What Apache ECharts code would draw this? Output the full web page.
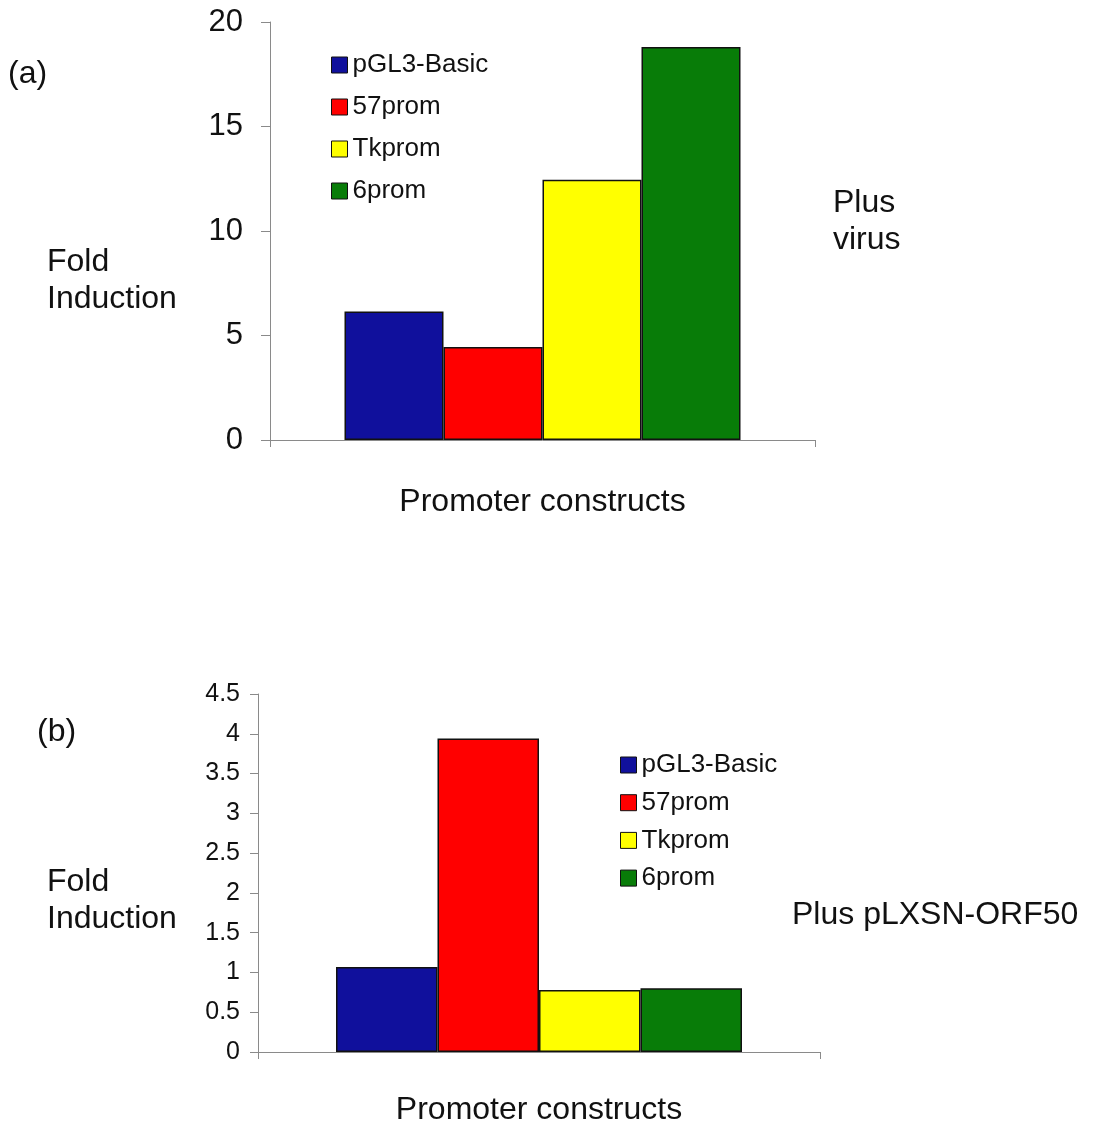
<!DOCTYPE html>
<html>
<head>
<meta charset="utf-8">
<script src="https://cdn.jsdelivr.net/npm/echarts@6/dist/echarts.min.js"></script>
<style>
  html, body { margin: 0; padding: 0; background: #fff; }
  #chart { width: 1096px; height: 1124px; }
</style>
</head>
<body>
<div id="chart"></div>
<script>
// categories / series
var seriesNames = ['pGL3-Basic', '57prom', 'Tkprom', '6prom']
var seriesColors = ['#10109c', '#ff0000', '#ffff00', '#087c08']
var category = ['Promoter constructs']

// (a) plus virus
var virusValues = [6.15, 4.45, 12.45, 18.8]
// (b) plus pLXSN-ORF50
var orfValues = [1.07, 3.94, 0.78, 0.8]

var font = 'Liberation Sans, Arial, sans-serif'
var chart = echarts.init(document.getElementById('chart'))

function makeSeries(values, idx) {
  return seriesNames.map(function(name, i) {
    return {
      name: name,
      type: 'bar',
      xAxisIndex: idx,
      yAxisIndex: idx,
      barWidth: idx === 0 ? 99 : 101.5,
      barGap: '0%',
      itemStyle: { color: seriesColors[i], borderColor: '#111', borderWidth: 1.5 },
      data: [values[i]],
      animation: false
    }
  })
}

function legendBlock(left, top, gap) {
  return {
    orient: 'vertical',
    left: left,
    top: top,
    icon: 'rect',
    itemWidth: 16,
    itemHeight: 16,
    itemGap: gap,
    data: seriesNames,
    selectedMode: false,
    textStyle: { fontFamily: font, fontSize: 26, color: '#111' },
    itemStyle: { borderColor: '#111', borderWidth: 1 }
  }
}

chart.setOption({
  animation: false,
  grid: [
    { left: 270, top: 22, width: 545, height: 418, outerBoundsMode: 'none' },
    { left: 258, top: 694, width: 562, height: 358, outerBoundsMode: 'none' }
  ],
  legend: [legendBlock(326, 47, 16), legendBlock(615, 747, 11.7)],
  xAxis: [0, 1].map(function(i) {
    return {
      type: 'category',
      gridIndex: i,
      data: category,
      axisLine: { lineStyle: { color: '#8a8a8a', width: 1 } },
      axisTick: { show: true, length: 7, lineStyle: { color: '#8a8a8a' } },
      axisLabel: { show: false },
      name: 'Promoter constructs',
      nameLocation: 'middle',
      nameGap: i === 0 ? 46 : 42,
      nameTextStyle: { fontFamily: font, fontSize: 32, color: '#111' }
    }
  }),
  yAxis: [
    {
      type: 'value', gridIndex: 0, min: 0, max: 20, interval: 5,
      axisLine: { show: true, lineStyle: { color: '#8a8a8a' } },
      axisTick: { show: true, length: 9, lineStyle: { color: '#8a8a8a' } },
      splitLine: { show: false },
      axisLabel: { fontFamily: font, fontSize: 31, color: '#111', margin: 27 }
    },
    {
      type: 'value', gridIndex: 1, min: 0, max: 4.5, interval: 0.5,
      axisLine: { show: true, lineStyle: { color: '#8a8a8a' } },
      axisTick: { show: true, length: 8, lineStyle: { color: '#8a8a8a' } },
      splitLine: { show: false },
      axisLabel: { fontFamily: font, fontSize: 25, color: '#111', margin: 18 }
    }
  ],
  graphic: [
    { type: 'text', left: 8, top: 56, style: { text: '(a)', font: '32px ' + font, lineHeight: 36, fill: '#111' } },
    { type: 'text', left: 47, top: 244, style: { text: 'Fold\nInduction', font: '32px ' + font, lineHeight: 37, fill: '#111' } },
    { type: 'text', left: 833, top: 185, style: { text: 'Plus\nvirus', font: '32px ' + font, lineHeight: 37, fill: '#111' } },
    { type: 'text', left: 37, top: 714, style: { text: '(b)', font: '32px ' + font, lineHeight: 36, fill: '#111' } },
    { type: 'text', left: 47, top: 864, style: { text: 'Fold\nInduction', font: '32px ' + font, lineHeight: 37, fill: '#111' } },
    { type: 'text', left: 792, top: 897, style: { text: 'Plus pLXSN-ORF50', font: '32px ' + font, lineHeight: 36, fill: '#111' } }
  ],
  series: makeSeries(virusValues, 0).concat(makeSeries(orfValues, 1))
})
</script>
</body>
</html>
